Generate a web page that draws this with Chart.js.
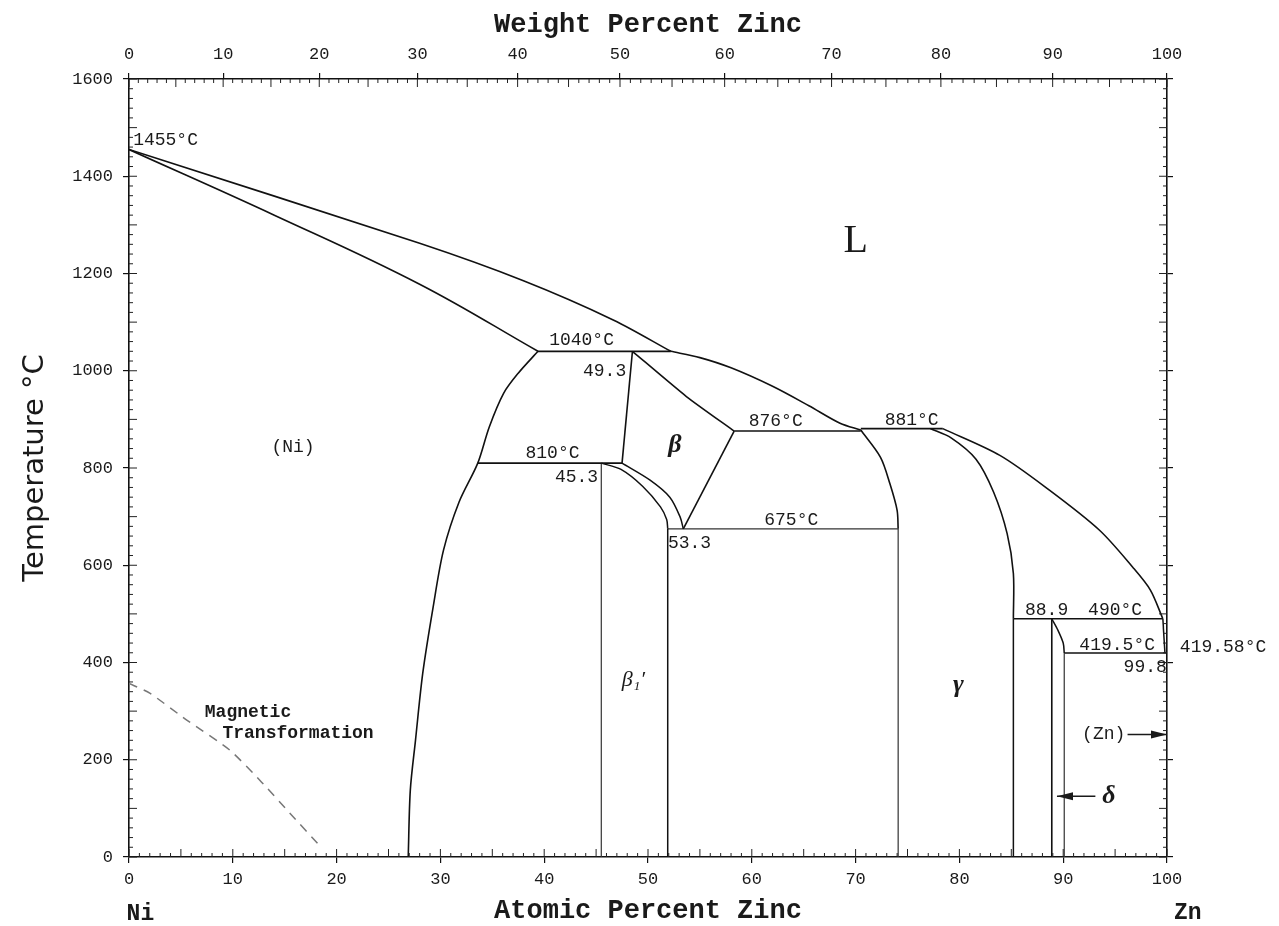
<!DOCTYPE html>
<html>
<head>
<meta charset="utf-8">
<title>Ni-Zn phase diagram</title>
<script src="https://cdn.jsdelivr.net/npm/chart.js@4.4.1/dist/chart.umd.min.js"></script>
<style>
  body { margin: 0; background: #fff; }
  #wrap { width: 1279px; height: 926px; }
</style>
</head>
<body>
<div id="wrap"><canvas id="myChart" width="1279" height="926"></canvas></div>
<script>
// boundaries as [atomic % Zn, temperature °C]
var liquidusNi = [[0,1455],[28,1262],[38,1185],[46.7,1104],[52.2,1040]];
var liquidusMid = [[52.2,1040],[55,1027],[58,1006],[62,968],[65.5,928],[68.5,892],[70.5,878]];
var solidusNi = [[0,1455],[14,1320],[28,1178],[39.4,1040]];
var solvusNi = [[39.4,1040],[37.5,995],[36.1,954],[34.7,884],[33.6,810],[31.8,730],[30.3,631],[29.3,514],[28.3,378],[27.6,240],[27.1,137],[26.9,0]];
var iso1040 = [[39.4,1040],[52.2,1040]];
var betaLeft = [[48.5,1040],[47.5,810]];
var iso810 = [[33.6,810],[47.5,810]];
var beta1Outer = [[45.5,810],[47.4,797],[49.5,762],[51.2,720],[51.8,694],[51.9,675]];
var beta1Inner = [[47.5,810],[50.2,775],[52.1,740],[53.1,699],[53.4,675]];
var beta1Left = [[45.5,810],[45.5,0]];
var beta1Right = [[51.9,675],[51.9,0]];
var betaRight = [[53.4,675],[58.3,876]];
var betaTop = [[48.5,1040],[53.7,947],[58.3,876]];
var iso876 = [[58.3,876],[70.5,876]];
var iso881 = [[70.5,881],[78.4,881]];
var iso675 = [[51.9,675],[74.1,675]];
var gammaLeft = [[70.5,878],[72.4,822],[73.3,768],[74.0,713],[74.1,675]];
var gammaLeftV = [[74.1,675],[74.1,0]];
var gammaRight = [[77.2,881],[79.2,862],[81.6,818],[83.3,750],[84.6,665],[85.2,583],[85.2,490]];
var gammaRightV = [[85.2,490],[85.2,0]];
var liquidusZn = [[78.4,881],[83.9,826],[88.7,754],[93.5,672],[96.7,596],[98.4,549],[99.6,490]];
var liquidusZnEnd = [[99.6,490],[99.8,419.5]];
var iso490 = [[85.2,490],[99.6,490]];
var deltaLeft = [[88.9,490],[88.9,0]];
var deltaCurve = [[88.9,490],[89.5,466],[90.0,440],[90.1,419.5]];
var deltaRight = [[90.1,419.5],[90.1,0]];
var iso419 = [[90.1,419.5],[100,419.5]];
var magnetic = [[0,357],[2.0,337],[5.6,281],[9.7,220],[12.6,158],[15.5,90],[18.6,18]];

// axis tick labels
var atomicTicks = [0,10,20,30,40,50,60,70,80,90,100];
var weightTicks = [0,10,20,30,40,50,60,70,80,90,100];
var tempTicks = [0,200,400,600,800,1000,1200,1400,1600];

// text on the diagram: [text, at% Zn, °C, kind, align]
var notes = [
  ['1455°C', 0.4, 1475, 'num', 'left'],
  ['L', 70.0, 1265, 'big', 'center'],
  ['(Ni)', 15.8, 843, 'num', 'center'],
  ['β', 52.6, 847, 'greek', 'center'],
  ['β₁′', 48.6, 364, 'greekSmall', 'center'],
  ['γ', 79.9, 353, 'greek', 'center'],
  ['Magnetic', 7.3, 298, 'mag', 'left'],
  ['Transformation', 9.0, 254, 'mag', 'left'],
  ['1040°C', 43.6, 1063, 'num', 'center'],
  ['49.3', 47.9, 1000, 'num', 'right'],
  ['810°C', 40.8, 830, 'num', 'center'],
  ['45.3', 45.2, 781, 'num', 'right'],
  ['876°C', 62.3, 896, 'num', 'center'],
  ['881°C', 75.4, 898, 'num', 'center'],
  ['675°C', 63.8, 693, 'num', 'center'],
  ['53.3', 54.0, 645, 'num', 'center'],
  ['88.9', 88.4, 507, 'num', 'center'],
  ['490°C', 95.0, 507, 'num', 'center'],
  ['419.5°C', 95.2, 435, 'num', 'center'],
  ['419.58°C', 105.4, 431, 'num', 'center'],
  ['99.8', 97.9, 390, 'num', 'center'],
  ['(Zn)', 93.9, 252, 'num', 'center'],
  ['δ', 94.4, 125, 'greek', 'center'],
  ['Ni', 1.1, -118, 'elem', 'center'],
  ['Zn', 102.0, -115, 'elem', 'center']
];
var noteFonts = {
  num: '18px "Liberation Mono"',
  big: '40px "Liberation Serif"',
  greek: 'italic bold 26px "Liberation Serif"',
  greekSmall: 'italic 22px "Liberation Serif"',
  mag: 'bold 18px "Liberation Mono"',
  elem: 'bold 23px "Liberation Mono"'
};
// arrows: [from at%, from °C, to at%, to °C]
var arrows = [
  [96.2, 252, 100, 252],
  [93.1, 125, 89.4, 125]
];

var M_NI = 58.69, M_ZN = 65.38;
function wtToAt(w) {
  var zn = w / M_ZN, ni = (100 - w) / M_NI;
  return 100 * zn / (zn + ni);
}

function line(pts, width, tension, color, dash) {
  return {
    data: pts.map(function(p) { return {x: p[0], y: p[1]}; }),
    showLine: true,
    borderColor: color || '#111',
    borderWidth: width,
    borderDash: dash || [],
    tension: tension,
    pointRadius: 0,
    fill: false
  };
}

var datasets = [
  line(liquidusNi, 1.6, 0.3),
  line(liquidusMid, 1.6, 0.3),
  line(solidusNi, 1.6, 0.4),
  line(solvusNi, 1.6, 0.3),
  line(iso1040, 1.8, 0),
  line(betaLeft, 1.6, 0),
  line(iso810, 1.6, 0),
  line(beta1Outer, 1.5, 0.3),
  line(beta1Inner, 1.5, 0.3),
  line(beta1Left, 1.2, 0, '#333'),
  line(beta1Right, 1.5, 0),
  line(betaRight, 1.6, 0),
  line(betaTop, 1.6, 0.2),
  line(iso876, 1.6, 0),
  line(iso881, 1.6, 0),
  line(iso675, 1.2, 0, '#333'),
  line(gammaLeft, 1.6, 0.3),
  line(gammaLeftV, 1.2, 0, '#333'),
  line(gammaRight, 1.6, 0.3),
  line(gammaRightV, 1.5, 0),
  line(liquidusZn, 1.6, 0.3),
  line(liquidusZnEnd, 1.5, 0),
  line(iso490, 1.6, 0),
  line(deltaLeft, 1.6, 0),
  line(deltaCurve, 1.5, 0.3),
  line(deltaRight, 1.2, 0, '#333'),
  line(iso419, 1.5, 0),
  line(magnetic, 1.5, 0.2, '#777', [9, 7])
];

// small inward ticks on all four sides
var minorTicks = {
  id: 'minorTicks',
  afterDraw: function(chart) {
    var ctx = chart.ctx, a = chart.chartArea, sx = chart.scales.x, sy = chart.scales.y;
    ctx.save();
    ctx.strokeStyle = '#222';
    ctx.lineWidth = 1;
    ctx.beginPath();
    for (var v = 0; v <= 100; v++) {
      var len = v % 5 === 0 ? 8 : 4;
      var px = sx.getPixelForValue(v);
      ctx.moveTo(px, a.bottom); ctx.lineTo(px, a.bottom - len);
      var pt = sx.getPixelForValue(wtToAt(v));
      ctx.moveTo(pt, a.top); ctx.lineTo(pt, a.top + len);
    }
    for (var t = 0; t <= 1600; t += 20) {
      var l2 = t % 100 === 0 ? 8 : 4;
      var py = sy.getPixelForValue(t);
      ctx.moveTo(a.left, py); ctx.lineTo(a.left + l2, py);
      ctx.moveTo(a.right, py); ctx.lineTo(a.right - l2, py);
    }
    ctx.stroke();
    ctx.restore();
  }
};

var labelsPlugin = {
  id: 'labelsPlugin',
  afterDraw: function(chart) {
    var ctx = chart.ctx, sx = chart.scales.x, sy = chart.scales.y;
    ctx.save();
    ctx.fillStyle = '#1a1a1a';
    ctx.textBaseline = 'middle';
    notes.forEach(function(n) {
      ctx.font = noteFonts[n[3]];
      ctx.textAlign = n[4];
      ctx.fillText(n[0], sx.getPixelForValue(n[1]), sy.getPixelForValue(n[2]));
    });
    ctx.strokeStyle = '#1a1a1a';
    ctx.lineWidth = 1.5;
    arrows.forEach(function(r) {
      var x1 = sx.getPixelForValue(r[0]), y1 = sy.getPixelForValue(r[1]);
      var x2 = sx.getPixelForValue(r[2]), y2 = sy.getPixelForValue(r[3]);
      var dir = x2 > x1 ? 1 : -1;
      ctx.beginPath();
      ctx.moveTo(x1, y1); ctx.lineTo(x2, y2);
      ctx.stroke();
      ctx.beginPath();
      ctx.moveTo(x2, y2);
      ctx.lineTo(x2 - dir * 16, y2 - 4);
      ctx.lineTo(x2 - dir * 16, y2 + 4);
      ctx.closePath();
      ctx.fill();
    });
    ctx.restore();
  }
};

var tickFont = {family: '"Liberation Mono"', size: 17};
var axisGrid = {drawOnChartArea: false, drawTicks: true, tickLength: 6, color: '#111', lineWidth: 1.2};
var axisBorder = {color: '#111', width: 1.6};
var titleFont = {family: '"Liberation Mono"', size: 27, weight: 'bold', lineHeight: 1};
function plain(v) { return String(v); }

var ctx = document.getElementById('myChart').getContext('2d');
var chart = new Chart(ctx, {
  type: 'scatter',
  data: {datasets: datasets},
  options: {
    responsive: false,
    animation: false,
    layout: {padding: 0},
    plugins: {legend: {display: false}, tooltip: {enabled: false}},
    scales: {
      x: {
        type: 'linear', position: 'bottom', min: 0, max: 100,
        afterBuildTicks: function(s) { s.ticks = atomicTicks.map(function(v) { return {value: v}; }); },
        ticks: {font: tickFont, color: '#1a1a1a', padding: 6, maxRotation: 0, autoSkip: false, callback: plain},
        grid: axisGrid, border: axisBorder,
        title: {display: true, text: 'Atomic Percent Zinc', color: '#1a1a1a', font: titleFont, padding: {top: 0, bottom: 1}},
        afterFit: function(s) { s.height = 69; }
      },
      x2: {
        type: 'linear', position: 'top', min: 0, max: 100,
        afterBuildTicks: function(s) { s.ticks = weightTicks.map(function(w) { return {value: wtToAt(w)}; }); },
        ticks: {font: tickFont, color: '#1a1a1a', padding: 8, maxRotation: 0, autoSkip: false,
                callback: function(v, i) { return String(weightTicks[i]); }},
        grid: axisGrid, border: axisBorder,
        title: {display: true, text: 'Weight Percent Zinc', color: '#1a1a1a', font: titleFont, padding: {top: 12, bottom: 0}},
        afterFit: function(s) { s.height = 79; }
      },
      y: {
        type: 'linear', position: 'left', min: 0, max: 1600,
        afterBuildTicks: function(s) { s.ticks = tempTicks.map(function(v) { return {value: v}; }); },
        ticks: {font: tickFont, color: '#1a1a1a', padding: 10, callback: plain},
        grid: axisGrid, border: axisBorder,
        title: {display: true, text: 'Temperature °C', color: '#1a1a1a',
                font: {family: '"DejaVu Sans"', size: 29, lineHeight: 1}, padding: {top: 21, bottom: 0}},
        afterFit: function(s) { s.width = 129; }
      },
      y2: {
        type: 'linear', position: 'right', min: 0, max: 1600,
        afterBuildTicks: function(s) { s.ticks = tempTicks.map(function(v) { return {value: v}; }); },
        ticks: {display: false},
        grid: axisGrid, border: axisBorder,
        afterFit: function(s) { s.width = 112; }
      }
    }
  },
  plugins: [minorTicks, labelsPlugin]
});
</script>
</body>
</html>
